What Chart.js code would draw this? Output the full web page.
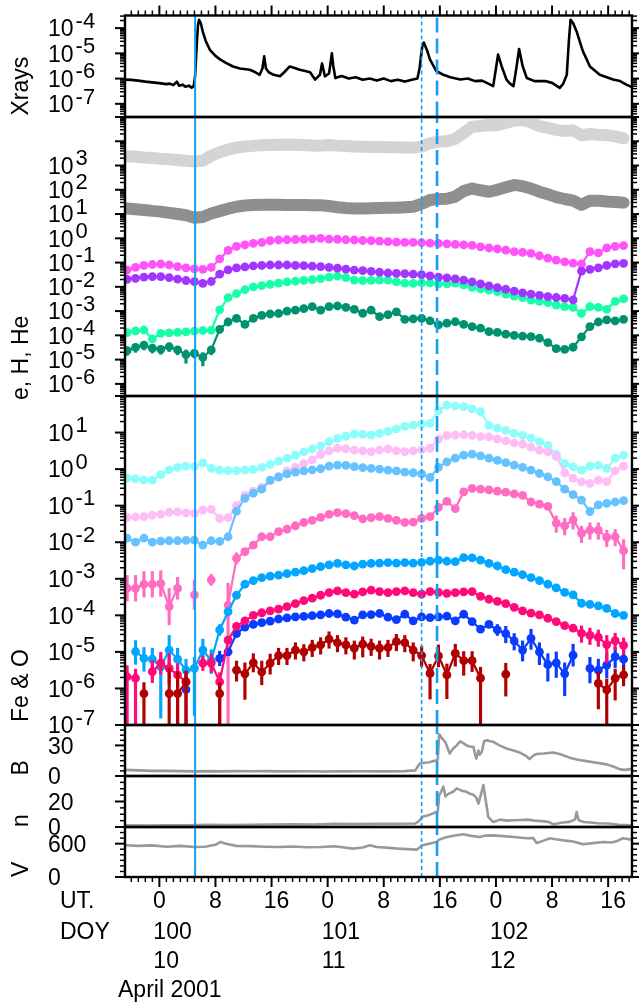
<!DOCTYPE html>
<html><head><meta charset="utf-8"><title>April 2001 event</title>
<script src="https://cdn.jsdelivr.net/npm/chart.js@4.4.1/dist/chart.umd.min.js"></script>
<style>html,body{margin:0;padding:0;background:#fff;overflow:hidden}#wrap{position:relative;width:639px;height:1007px}#wrap canvas{position:absolute;left:0;top:0}</style>
</head><body><div id="wrap"></div>
<script>
// ---------- DATA (time in hours after DOY 100 00:00 UT) ----------
const eventTimes = [5.1, 37.4, 39.6];

// GOES X-ray flux (log10 W/m2)
const xrayT = [-4.9,-4.0,-3.0,-2.0,-1.0,0.0,1.0,1.5,2.0,2.5,2.8,3.3,3.7,4.2,4.6,4.9,5.1,5.3,5.5,5.66,5.9,6.2,6.6,7.2,8.0,8.7,9.5,10.5,11.5,12.9,13.7,14.3,14.7,14.95,15.2,15.6,16.3,17.2,17.8,18.6,19.3,20.0,20.8,21.5,22.2,22.9,23.2,23.6,24.2,24.6,24.8,25.1,26,27,28,29,30,31,32,33,34,35,36,36.8,37.1,37.5,37.7,38.2,38.6,39.5,40.5,41.5,42.9,44,45,46,46.7,47.6,48.0,48.3,48.8,49.5,50.0,50.5,50.9,51.3,51.8,52.4,53.5,55,56,57.1,57.6,58.1,58.4,58.64,59.0,59.5,60.4,61.4,62.8,64.7,65.7,66.6,67.3];
const xrayLog = [-6.04,-6.05,-6.08,-6.12,-6.15,-6.18,-6.22,-6.20,-6.26,-6.12,-6.28,-6.24,-6.32,-6.28,-6.36,-6.30,-5.9,-4.8,-3.9,-3.67,-3.8,-4.15,-4.5,-4.86,-5.1,-5.25,-5.38,-5.52,-5.6,-5.65,-5.75,-5.85,-5.6,-5.12,-5.6,-5.75,-5.85,-5.91,-5.75,-5.52,-5.58,-5.65,-5.7,-5.75,-6.04,-5.85,-5.4,-5.91,-5.8,-5.0,-5.5,-5.98,-5.9,-6.0,-5.95,-6.05,-6.0,-6.08,-6.0,-6.1,-6.05,-6.12,-6.05,-6.0,-5.6,-4.7,-4.57,-4.9,-5.25,-5.7,-5.85,-5.95,-6.04,-6.0,-6.1,-6.08,-6.17,-6.3,-5.6,-5.05,-5.5,-6.04,-6.2,-6.3,-5.6,-4.83,-5.5,-5.98,-6.1,-6.1,-6.17,-6.37,-6.2,-5.85,-4.5,-3.67,-3.8,-4.13,-4.92,-5.52,-5.85,-6.04,-6.1,-6.24,-6.33];

// common time grid of the particle averages
const tGrid = [-4.6,-3.4,-2.2,-1.0,0.2,1.4,2.6,3.8,5.0,6.2,7.4,8.6,
 9.8,11.0,12.2,13.4,14.6,15.8,17.0,18.2,19.4,20.6,21.8,23.0,
 24.2,25.4,26.6,27.8,29.0,30.2,31.4,32.6,33.8,35.0,36.2,37.4,
 38.6,39.8,41.0,42.2,43.4,44.6,45.8,47.0,48.2,49.4,50.6,51.8,
 53.0,54.2,55.4,56.6,57.8,59.0,60.2,61.4,62.6,63.8,65.0,66.2];

// e, H, He panel (log10 of intensity)
const grayLight = [3.38,3.36,3.33,3.31,3.28,3.26,3.23,3.20,3.17,3.20,3.40,3.55,
 3.66,3.74,3.78,3.81,3.84,3.85,3.86,3.86,3.86,3.85,3.83,3.82,
 3.85,3.82,3.80,3.78,3.77,3.76,3.76,3.75,3.75,3.74,3.73,3.78,
 3.92,3.98,4.00,4.10,4.35,4.60,4.63,4.67,4.66,4.76,4.85,4.88,
 4.78,4.62,4.55,4.47,4.42,4.45,4.25,4.30,4.27,4.25,4.20,4.12];
const grayDark = [1.23,1.20,1.17,1.13,1.10,1.05,1.00,0.95,0.85,0.88,1.02,1.12,
 1.22,1.30,1.35,1.37,1.38,1.38,1.38,1.37,1.37,1.37,1.36,1.36,
 1.33,1.28,1.25,1.23,1.23,1.24,1.25,1.26,1.26,1.28,1.30,1.42,
 1.58,1.62,1.63,1.72,1.95,2.05,1.98,1.92,2.00,2.10,2.20,2.15,
 2.05,1.92,1.82,1.70,1.62,1.55,1.38,1.55,1.55,1.52,1.50,1.47];
const magentaH = [-1.31,-1.20,-1.12,-1.08,-1.06,-1.10,-1.17,-1.22,-1.26,-1.28,-1.20,-0.85,
 -0.50,-0.33,-0.27,-0.21,-0.17,-0.10,-0.07,-0.06,-0.05,-0.04,-0.02,0.00,
 -0.03,-0.04,-0.06,-0.07,-0.09,-0.10,-0.12,-0.14,-0.16,-0.17,-0.17,-0.18,
 -0.20,-0.21,-0.23,-0.25,-0.27,-0.29,-0.35,-0.40,-0.44,-0.49,-0.55,-0.58,
 -0.62,-0.72,-0.82,-0.90,-0.97,-1.02,-1.06,-0.55,-0.60,-0.40,-0.33,-0.30];
const purpleH = [-1.69,-1.65,-1.60,-1.58,-1.58,-1.62,-1.68,-1.74,-1.79,-1.86,-1.78,-1.48,
 -1.30,-1.22,-1.18,-1.14,-1.12,-1.10,-1.10,-1.10,-1.12,-1.13,-1.15,-1.17,
 -1.20,-1.23,-1.27,-1.31,-1.33,-1.36,-1.40,-1.43,-1.45,-1.46,-1.48,-1.50,
 -1.55,-1.60,-1.63,-1.67,-1.72,-1.80,-1.88,-1.96,-2.03,-2.10,-2.18,-2.25,
 -2.30,-2.35,-2.40,-2.44,-2.48,-2.54,-1.35,-1.28,-1.22,-1.12,-1.05,-1.03];
const greenHe = [-3.89,-3.82,-3.78,-4.15,-3.92,-3.90,-3.88,-3.86,-3.83,-3.80,-3.79,-2.95,
 -2.45,-2.28,-2.12,-2.00,-1.95,-1.90,-1.85,-1.80,-1.77,-1.73,-1.70,-1.66,
 -1.60,-1.56,-1.62,-1.72,-1.74,-1.73,-1.72,-1.72,-1.80,-1.85,-1.86,-1.84,
 -1.84,-1.88,-1.88,-1.85,-1.92,-2.02,-2.08,-2.14,-2.20,-2.30,-2.38,-2.45,
 -2.55,-2.60,-2.65,-2.75,-2.82,-2.85,-3.10,-2.82,-2.85,-2.93,-2.60,-2.50];
const tealHe = [-4.63,-4.50,-4.40,-4.53,-4.58,-4.47,-4.60,-4.80,-4.74,-4.91,-4.60,-3.75,
 -3.45,-3.30,-3.55,-3.30,-3.18,-3.12,-3.10,-3.00,-2.96,-2.90,-2.82,-2.96,
 -2.82,-2.79,-2.85,-2.93,-3.09,-2.96,-3.23,-3.15,-3.03,-3.34,-3.32,-3.30,
 -3.40,-3.57,-3.50,-3.44,-3.55,-3.64,-3.70,-3.85,-3.88,-3.95,-4.00,-4.03,
 -4.05,-4.12,-4.30,-4.55,-4.58,-4.49,-4.06,-3.64,-3.45,-3.36,-3.40,-3.34];
const tealErrUp = [0.15,0.15,0.15,0.15,0.15,0.15,0.15,0.2,0.15,0.2,0.15,0.1];
const tealErrDn = [0.2,0.2,0.2,0.2,0.2,0.2,0.2,0.35,0.2,0.35,0.2,0.1];

// Fe & O panel (log10 of intensity)
const feo1 = [-0.25,-0.27,-0.30,-0.30,-0.15,-0.02,0.05,0.08,0.07,0.17,0.02,-0.03,
 -0.04,-0.04,-0.03,-0.01,0.05,0.13,0.22,0.30,0.38,0.47,0.55,0.63,
 0.75,0.84,0.90,0.96,0.95,0.93,0.98,1.03,1.10,1.17,1.20,1.23,
 1.25,1.60,1.75,1.73,1.71,1.65,1.57,1.20,1.12,1.06,0.98,0.92,
 0.85,0.75,0.65,0.40,0.15,0.06,-0.03,0.08,0.10,0.02,0.30,0.38];
const feo2 = [-1.32,-1.31,-1.30,-1.26,-1.23,-1.18,-1.17,-1.20,-1.21,-1.12,-1.10,-1.35,
 -1.33,-1.00,-0.72,-0.60,-0.50,-0.32,-0.20,-0.05,0.05,0.15,0.25,0.40,
 0.50,0.57,0.55,0.52,0.50,0.48,0.52,0.55,0.50,0.48,0.50,0.53,
 0.57,0.82,0.92,0.93,0.94,0.92,0.89,0.88,0.82,0.77,0.72,0.68,
 0.60,0.52,0.47,0.35,-0.10,-0.25,-0.35,-0.39,-0.30,-0.34,-0.05,0.08];
const feo3 = [-1.89,-2.00,-1.89,-2.00,-1.97,-1.96,-1.96,-1.95,-1.94,-2.08,-1.96,-1.98,
 -1.85,-1.15,-0.80,-0.66,-0.55,-0.30,-0.22,-0.13,-0.08,-0.05,-0.02,0.01,
 0.08,0.11,0.10,0.07,0.04,0.02,0.00,-0.03,-0.05,-0.08,-0.10,-0.13,
 -0.23,0.05,0.20,0.30,0.38,0.41,0.36,0.30,0.24,0.18,0.11,0.05,
 -0.03,-0.12,-0.21,-0.34,-0.55,-0.70,-0.85,-1.16,-0.98,-0.94,-0.90,-0.86];
const feo4 = [-3.26,-3.26,-3.15,-3.15,-3.13,-3.76,-3.26,null,-3.44,null,-3.03,null,
 -3.72,-2.44,-2.26,-2.08,-1.85,-1.85,-1.71,-1.64,-1.55,-1.46,-1.40,-1.32,
 -1.24,-1.19,-1.22,-1.27,-1.36,-1.33,-1.30,-1.35,-1.40,-1.46,-1.45,-1.35,
 -1.30,-1.05,-0.88,-1.08,-0.62,-0.53,-0.55,-0.57,-0.60,-0.63,-0.68,-0.72,
 -0.90,-0.96,-1.02,-1.48,-1.55,-1.39,-1.76,-1.67,-1.67,-1.87,-1.85,-2.23];
const feo4ErrUp = [0.35,0.35,0.35,0.35,0.35,0.5,0.3,0,0.4,0,0.15,0,
 0.6,0.15,0,0,0,0,0,0,0,0,0,0,
 0,0,0,0,0,0,0,0,0,0,0,0,
 0,0,0,0,0,0,0,0,0,0,0,0,
 0,0,0,0.2,0.2,0.2,0.2,0.2,0.2,0.2,0.2,0.3];
const feo4ErrDn = [0.35,0.35,0.35,0.35,0.35,0.5,0.3,0,0.4,0,0.15,0,
 3.5,0.15,0,0,0,0,0,0,0,0,0,0,
 0,0,0,0,0,0,0,0,0,0,0,0,
 0,0,0,0,0,0,0,0,0,0,0,0,
 0,0,0,0.25,0.25,0.25,0.25,0.25,0.25,0.25,0.25,0.5];
const feo5 = [null,-4.99,-5.18,-5.20,-5.41,-4.95,-5.20,-5.50,-5.45,-4.95,-5.24,-4.40,
 -3.90,-3.45,-3.15,-3.05,-2.97,-2.93,-2.90,-2.86,-2.82,-2.78,-2.72,-2.67,
 -2.62,-2.58,-2.62,-2.65,-2.60,-2.58,-2.57,-2.56,-2.57,-2.56,-2.57,-2.55,
 -2.52,-2.49,-2.52,-2.53,-2.42,-2.43,-2.49,-2.58,-2.65,-2.75,-2.82,-2.89,
 -2.97,-3.05,-3.15,-3.25,-3.37,-3.44,-3.67,-3.70,-3.74,-3.81,-3.95,-4.00];
const feo5ErrUp = [0,0.3,0.3,0.3,0.3,0.4,0.3,0.3,0.3,0.3,0.3,0.15];
const feo5ErrDn = [0,0.35,0.35,0.4,1.4,0.4,0.35,0.6,1.3,0.35,0.35,0.15];
const feo6 = [-5.68,-5.72,null,-5.54,-5.31,-5.45,-5.63,-5.82,null,-5.31,-5.31,-5.82,
 -4.68,-4.30,-4.15,-4.00,-3.93,-3.88,-3.83,-3.76,-3.68,-3.60,-3.53,-3.45,
 -3.38,-3.33,-3.38,-3.42,-3.36,-3.31,-3.35,-3.38,-3.35,-3.33,-3.38,-3.42,
 -3.35,-3.37,-3.40,-3.38,-3.36,-3.35,-3.48,-3.56,-3.62,-3.68,-3.78,-3.88,
 -3.94,-3.99,-4.08,-4.17,-4.28,-4.35,-4.49,-4.55,-4.60,-4.80,-4.69,-4.82];
const feo6ErrUp = [0.3,0.25,0,0.3,0.3,0.4,0.3,0.25,0,0.2,0.25,0.25,
 0,0,0,0,0,0,0,0,0,0,0,0,
 0,0,0,0,0,0,0,0,0,0,0,0,
 0,0,0,0,0,0,0,0,0,0,0,0,
 0,0,0,0,0,0,0.2,0.2,0.2,0.25,0.2,0.2];
const feo6ErrDn = [1.4,1.3,0,0.3,0.3,0.4,1.4,1.2,0,0.2,0.25,1.2,
 0,0,0,0,0,0,0,0,0,0,0,0,
 0,0,0,0,0,0,0,0,0,0,0,0,
 0,0,0,0,0,0,0,0,0,0,0,0,
 0,0,0,0,0,0,0.25,0.25,0.25,0.5,0.25,0.25];
const feo7 = [null,null,null,null,null,null,null,-6.03,null,null,null,-5.18,
 -5.00,-4.50,-4.32,-4.25,-4.20,-4.16,-4.10,-4.07,-4.04,-4.03,-4.01,-3.99,
 -3.95,-3.96,-4.05,-4.13,-3.99,-3.98,-3.95,-4.05,-4.12,-3.97,-4.15,-4.04,
 -4.06,-4.04,-4.02,-4.15,-3.97,-4.17,-4.38,-4.25,-4.40,-4.50,-4.70,-4.95,
 -4.63,-5.00,-5.35,-5.30,-5.60,-5.09,null,-5.45,-5.50,-5.36,-5.13,-5.20];
const feo7ErrUp = [0,0,0,0,0,0,0,0,0,0,0,0.2,
 0,0,0,0,0,0,0,0,0,0,0,0,
 0,0,0,0,0,0,0,0,0,0,0,0,
 0,0,0,0,0,0,0,0,0.15,0.2,0.2,0.25,
 0.25,0.25,0.3,0.3,0.3,0.3,0,0.3,0.3,0.3,0.25,0.25];
const feo7ErrDn = [0,0,0,0,0,0,0,0,0,0,0,0.2,
 0,0,0,0,0,0,0,0,0,0,0,0,
 0,0,0,0,0,0,0,0,0,0,0,0,
 0,0,0,0,0,0,0,0,0.15,0.25,0.25,0.3,
 0.3,0.35,0.45,0.4,0.6,0.3,0,0.4,0.45,0.35,0.3,0.3];
const feo8 = [null,null,-6.14,null,null,-6.14,-6.14,-5.82,null,null,null,-6.14,
 null,-5.50,-5.60,-5.30,-5.55,-5.31,-5.10,-5.10,-4.95,-5.00,-4.88,-4.81,
 -4.65,-4.75,-4.81,-4.90,-4.79,-4.85,-4.90,-4.88,-4.72,-4.75,-4.95,-5.10,
 -5.59,-5.11,-5.63,-5.04,-5.24,-5.24,-5.72,null,null,-5.61,null,null,
 null,null,null,null,null,null,null,null,-5.86,-6.04,-5.72,-5.63];
const feo8ErrUp = [0,0,0.3,0,0,0.7,0.6,0.3,0,0,0,0.3,
 0,0.25,0.3,0.25,0.3,0.25,0.2,0.2,0.2,0.2,0.2,0.2,
 0.2,0.2,0.2,0.2,0.2,0.2,0.2,0.2,0.2,0.2,0.2,0.25,
 0.25,0.3,0.3,0.25,0.25,0.25,0.3,0,0,0.3,0,0,
 0,0,0,0,0,0,0,0,0.3,0.3,0.25,0.25];
const feo8ErrDn = [0,0,1.0,0,0,1.0,1.0,1.3,0,0,0,1.0,
 0,0.3,0.7,0.25,0.35,0.3,0.25,0.25,0.25,0.25,0.25,0.25,
 0.25,0.25,0.25,0.3,0.35,0.25,0.3,0.25,0.25,0.25,0.3,0.3,
 0.7,0.3,0.65,0.35,0.4,0.3,1.5,0,0,0.6,0,0,
 0,0,0,0,0,0,0,0,0.7,1.2,0.6,0.3];

// Solar wind: B (nT), n (cm-3), V (km/s)
const bT = [-4.9,-3,-1,1,3,5,7,9,11,13,15,17,19,21,23,25,27,29,31,33,35,36.5,37.1,37.3,38.5,39.5,39.7,39.9,40.3,40.8,41.4,41.9,42.4,42.9,43.4,43.8,44.3,44.8,45.0,45.2,45.5,45.7,46.0,46.3,46.7,47.2,47.6,48.5,49.5,50.5,51.4,52.2,52.8,53.3,53.8,54.8,55.5,56.2,57.3,58.5,59.7,60.9,62.3,63.8,64.8,65.7,66.5,67.3];
const bV = [6,5.5,5,5,4.8,4.5,4.8,4.5,4.8,4.6,4.8,4.5,4.5,4.6,4.4,4.5,4.5,4.6,4.5,4.5,4.8,5.5,12,12.5,13.5,15.5,16,41,37,33,22,27,30,34,32,30,29,28.5,22,17,25,21,24,34,35,34,33.5,30,27,25,23,20,16.6,20,21.6,22,22.5,23,21,18,16,14.6,13,11.4,9,6.5,6,7];
const nT = [-4.9,-2,1,4,7,10,13,16,19,22,25,28,31,34,36.5,37.1,37.5,38.5,39.5,39.7,39.9,40.2,40.5,40.8,41.2,41.9,42.4,43.1,43.8,44.3,44.8,45.2,45.5,45.9,46.2,46.5,46.9,47.6,48.6,49.5,50.5,51.5,52.5,53.5,54.5,55.5,56.2,57.5,58.5,59.3,59.5,59.8,60.5,61.5,62.5,64,65.5,67.3];
const nV = [1.3,1.2,1.4,1.3,1.8,1.6,1.8,2.0,2.2,2.0,2.5,2.4,2.6,2.5,2.7,5,8,9.5,11.8,12,25,28,31.6,24,26,27.6,30.3,28.5,27.6,26,25.2,23,18.4,26.3,32.9,22.4,7.9,3.9,5.8,5.0,5.3,5.5,5.8,5.0,4.6,4.0,2.1,3.5,4.0,6,11.8,5.3,3.9,3.5,3.0,2.7,1.8,1.3];
const vT = [-4.9,-3,-1,1,3,5,6.5,8,8.7,9.5,11,13,15,17,19,21,23,25,27.6,29,30,31,32.4,34,36.7,37.2,37.5,38.5,39.5,39.9,41,42.4,43.3,44.5,45.7,46.5,47.6,49,50.5,52.4,53.3,53.8,54.7,55.7,56.5,57.6,59,60.4,61.8,63.3,64.5,65.3,66.1,67.3];
const vV = [571,560,570,545,560,540,545,580,630,600,560,555,545,540,550,535,540,553,511,530,571,540,529,510,493,540,571,600,630,673,720,750,768,740,720,745,750,735,720,697,700,612,650,697,680,660,640,588,610,630,620,650,697,673];

// tick labels
const xrayExps = [-4,-5,-6,-7];
const ehheExps = [3,2,1,0,-1,-2,-3,-4,-5,-6];
const feoExps = [1,0,-1,-2,-3,-4,-5,-6,-7];
const bLabels = [0,30], nLabels = [0,20], vLabels = [0,600];
const utTicks = [0,8,16,24,32,40,48,56,64];
const utLabels = ['0','8','16','0','8','16','0','8','16'];
const dayTicks = [0,24,48];
const doyLabels = ['100','101','102'];
const domLabels = ['10','11','12'];
const monthLabel = 'April 2001';

// ---------- RENDERING ----------
const FONT = '"Liberation Sans", Arial, Helvetica, sans-serif';
const X_MIN = -4.9, X_MAX = 67.4, PL = 125, PR = 632, W = 639, H = 1007;
const EV_COLOR = '#14a0f2';
const evWidth = [2, 1.6, 2.6], evDash = [[], [4, 3], [15, 6]];
const p10 = v => (v == null ? null : Math.pow(10, v));

function pts(ts, vals, f) { return ts.map((t, i) => ({x: t, y: vals[i] == null ? null : f(vals[i])})); }
function errData(ts, vals, up, dn) {
  const out = [];
  ts.forEach((t, i) => { const u = up[i] || 0, d = dn[i] || 0;
    if (vals[i] != null && (u > 0 || d > 0)) out.push({x: t, y: [p10(vals[i] - d), p10(vals[i] + u)]}); });
  return out;
}
function dotSet(vals, color, order) {
  return {type: 'line', data: pts(tGrid, vals, p10), borderColor: color, backgroundColor: color, borderWidth: 2.2,
    pointRadius: 4.4, pointBorderWidth: 0, pointHoverRadius: 4.4, spanGaps: false, order};
}
function barSet(data, color, order) {
  return {type: 'bar', data, backgroundColor: color, borderWidth: 0, barThickness: 2.5, grouped: false, order};
}
function bandSet(vals, color, order) {
  return {type: 'line', data: pts(tGrid, vals, p10), borderColor: color, borderWidth: 12, pointRadius: 0,
    borderCapStyle: 'round', borderJoinStyle: 'round', order};
}
function lineSet(ts, vals, color, width, order, f) {
  return {type: 'line', data: pts(ts, vals, f || (v => v)), borderColor: color, borderWidth: width, pointRadius: 0,
    borderJoinStyle: 'round', order};
}
function eventSets(min, max) {
  return eventTimes.map((t, i) => ({type: 'line', data: [{x: t, y: min}, {x: t, y: max}], borderColor: EV_COLOR,
    borderWidth: evWidth[i], borderDash: evDash[i], pointRadius: 0, order: 0}));
}

function yTicks(p) {
  const out = [];
  if (p.type === 'logarithmic') {
    const e0 = Math.floor(Math.log10(p.min)) , e1 = Math.ceil(Math.log10(p.max));
    for (let e = e0; e <= e1; e++) for (let m = 1; m <= 9; m++) {
      const v = m * Math.pow(10, e);
      if (v >= p.min * 0.999 && v <= p.max * 1.001) out.push({v, major: m === 1});
    }
  } else {
    for (let v = 0; v <= p.max + 1e-9; v += p.step) out.push({v, major: p.labels.includes(v)});
  }
  return out;
}

function axesPlugin(p) {
  return {
    id: 'frameAxes',
    afterDraw(chart) {
      const ctx = chart.ctx, a = chart.chartArea, xs = chart.scales.x, ys = chart.scales.y;
      ctx.save();
      ctx.strokeStyle = '#000'; ctx.fillStyle = '#000'; ctx.lineCap = 'butt';
      const seg = (x1, y1, x2, y2, w) => { ctx.lineWidth = w; ctx.beginPath(); ctx.moveTo(x1, y1); ctx.lineTo(x2, y2); ctx.stroke(); };
      yTicks(p).forEach(t => {
        const y = ys.getPixelForValue(t.v), len = t.major ? 10 : 5, w = t.major ? 2 : 1.5;
        seg(a.left - len, y, a.left, y, w); seg(a.right, y, a.right + len, y, w);
      });
      if (p.xTop || p.xBottom) {
        for (let h = Math.ceil(X_MIN); h <= Math.floor(X_MAX); h++) {
          const x = xs.getPixelForValue(h), major = h % 8 === 0, len = major ? 10 : 5, w = major ? 2 : 1.5;
          if (p.xTop) seg(x, a.top - len, x, a.top, w);
          if (p.xBottom) seg(x, a.bottom, x, a.bottom + len, w);
        }
      }
      ctx.lineWidth = 2.4; ctx.strokeRect(a.left, a.top, a.right - a.left, a.bottom - a.top);
      ctx.textAlign = 'left'; ctx.textBaseline = 'alphabetic';
      if (p.type === 'logarithmic') {
        p.exps.forEach(e => {
          const y = ys.getPixelForValue(Math.pow(10, e));
          ctx.font = '23px ' + FONT; ctx.fillText('10', 48, y + 8.2);
          const w = ctx.measureText('10').width;
          ctx.font = '22px ' + FONT; ctx.fillText(String(e), 48 + w + 2, y - 0.3);
        });
      } else {
        ctx.font = '23px ' + FONT;
        p.labels.forEach(v => { const y = ys.getPixelForValue(v); ctx.fillText(String(v), 48, y + 8.2); });
      }
      ctx.save(); ctx.font = '23px ' + FONT; ctx.translate(27.5, p.titleY); ctx.rotate(-Math.PI / 2);
      ctx.fillText(p.title, 0, 0); ctx.restore();
      if (p.xBottom) {
        ctx.font = '23px ' + FONT;
        ctx.textAlign = 'left'; ctx.fillText('UT.', 60, 908); ctx.fillText('DOY', 60, 938.5);
        ctx.textAlign = 'center';
        utTicks.forEach((h, i) => { const x = xs.getPixelForValue(h) + (utLabels[i].length > 1 ? 5 : 0); ctx.fillText(utLabels[i], x, 908); });
        ctx.textAlign = 'left';
        dayTicks.forEach((h, i) => { const x = xs.getPixelForValue(h) - 6; ctx.fillText(doyLabels[i], x, 938.5); ctx.fillText(domLabels[i], x, 968.3); });
        ctx.fillText(monthLabel, 118, 997.3);
      }
      ctx.restore();
    }
  };
}

function makePanel(p) {
  const c = document.createElement('canvas');
  c.width = W; c.height = H; c.style.width = W + 'px'; c.style.height = H + 'px';
  document.getElementById('wrap').appendChild(c);
  const yScale = {type: p.type, min: p.min, max: p.max, display: false};
  return new Chart(c, {
    type: 'line',
    data: {datasets: eventSets(p.min, p.max).concat(p.datasets)},
    options: {
      responsive: false, animation: false, devicePixelRatio: 1,
      layout: {padding: {left: PL, right: W - PR, top: p.top, bottom: H - p.bottom}},
      plugins: {legend: {display: false}, tooltip: {enabled: false}},
      events: [],
      scales: {x: {type: 'linear', min: X_MIN, max: X_MAX, display: false, offset: false}, y: yScale}
    },
    plugins: [axesPlugin(p)]
  });
}

const C = {grayL: '#d4d4d4', grayD: '#8f8f8f', mag: '#ff52fa', pur: '#a236ff', grn: '#17ffa8', teal: '#00916f',
  f1: '#8cfdfa', f2: '#ffbdf6', f3: '#66c2ff', f4: '#ff6cc2', f5: '#00a6ff', f6: '#ff0a78', f7: '#0a3cff', f8: '#b00000', sw: '#999999'};

makePanel({title: 'Xrays', titleY: 115.5, top: 15.5, bottom: 117, type: 'logarithmic', min: p10(-7.5), max: p10(-3.5), exps: xrayExps, xTop: true,
  datasets: [lineSet(xrayT, xrayLog, '#000', 2.6, 5, p10)]});

makePanel({title: 'e, H, He', titleY: 400, top: 117, bottom: 396, type: 'logarithmic', min: p10(-6.5), max: p10(5), exps: ehheExps,
  datasets: [bandSet(grayLight, C.grayL, 30), bandSet(grayDark, C.grayD, 29),
    dotSet(magentaH, C.mag, 14), dotSet(purpleH, C.pur, 13), dotSet(greenHe, C.grn, 15),
    dotSet(tealHe, C.teal, 16), barSet(errData(tGrid, tealHe, tealErrUp, tealErrDn), C.teal, 16.5)]});

makePanel({title: 'Fe & O', titleY: 722, top: 396, bottom: 725, type: 'logarithmic', min: p10(-7), max: p10(2), exps: feoExps,
  datasets: [dotSet(feo1, C.f1, 18), dotSet(feo2, C.f2, 17), dotSet(feo3, C.f3, 16),
    dotSet(feo4, C.f4, 15), barSet(errData(tGrid, feo4, feo4ErrUp, feo4ErrDn), C.f4, 15.5),
    dotSet(feo5, C.f5, 14), barSet(errData(tGrid, feo5, feo5ErrUp, feo5ErrDn), C.f5, 14.5),
    dotSet(feo6, C.f6, 12), barSet(errData(tGrid, feo6, feo6ErrUp, feo6ErrDn), C.f6, 12.5),
    dotSet(feo7, C.f7, 13), barSet(errData(tGrid, feo7, feo7ErrUp, feo7ErrDn), C.f7, 13.5),
    dotSet(feo8, C.f8, 11), barSet(errData(tGrid, feo8, feo8ErrUp, feo8ErrDn), C.f8, 11.5)]});

makePanel({title: 'B', titleY: 775.5, top: 725, bottom: 776, type: 'linear', min: 0, max: 50, step: 5, labels: bLabels,
  datasets: [lineSet(bT, bV, C.sw, 2.6, 5)]});
makePanel({title: 'n', titleY: 827, top: 776, bottom: 827, type: 'linear', min: 0, max: 40, step: 5, labels: nLabels,
  datasets: [lineSet(nT, nV, C.sw, 2.6, 5)]});
makePanel({title: 'V', titleY: 877, top: 827, bottom: 877, type: 'linear', min: 0, max: 900, step: 100, labels: vLabels, xBottom: true,
  datasets: [lineSet(vT, vV, C.sw, 2.6, 5)]});
</script></body></html>
